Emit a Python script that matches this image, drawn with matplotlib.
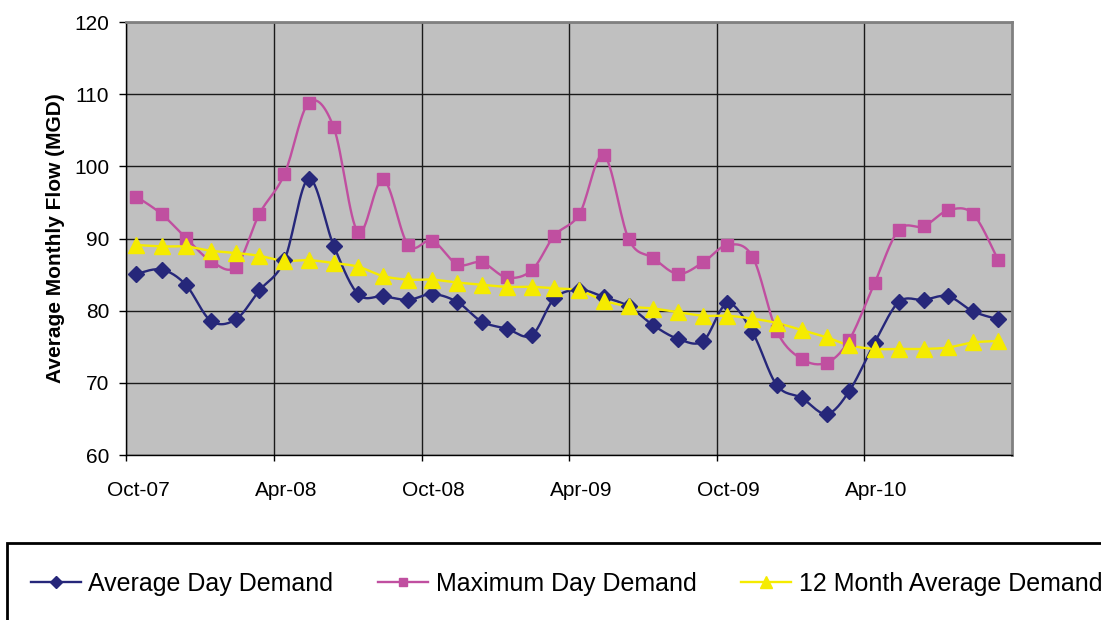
"""Monthly water demand: average day, maximum day and 12-month rolling average."""

import matplotlib

matplotlib.use("Agg")
import matplotlib.dates as mdates
import matplotlib.pyplot as plt
import matplotlib.transforms as mtransforms
import numpy as np
import pandas as pd
from matplotlib.lines import Line2D
from matplotlib.patches import Rectangle

plt.rcParams["font.family"] = ["Liberation Sans", "DejaVu Sans"]

# one reading per month, Oct-07 .. Sep-10 (plotted mid-month)
months = pd.date_range("2007-10-01", periods=36, freq="MS") + pd.Timedelta(days=13)

avg_day = [
    85.1, 85.7, 83.6, 78.6, 78.8, 82.8, 87.0, 98.3, 89.0, 82.3, 82.0, 81.5,
    82.3, 81.2, 78.5, 77.5, 76.6, 81.7, 82.9, 81.9, 80.6, 78.0, 76.1, 75.8,
    81.0, 77.0, 69.7, 67.9, 65.7, 68.9, 75.5, 81.2, 81.5, 82.0, 79.9, 78.8,
]
max_day = [
    95.8, 93.4, 90.1, 86.9, 86.1, 93.4, 98.9, 108.8, 105.4, 90.9, 98.2, 89.1,
    89.7, 86.4, 86.7, 84.6, 85.6, 90.4, 93.4, 101.6, 89.9, 87.3, 85.1, 86.7,
    89.1, 87.5, 77.2, 73.3, 72.8, 76.0, 83.8, 91.2, 91.7, 93.9, 93.4, 87.0,
]
avg_12mo = [
    89.1, 88.9, 88.9, 88.3, 88.0, 87.6, 86.9, 87.0, 86.6, 86.1, 84.8, 84.3,
    84.3, 83.9, 83.6, 83.3, 83.3, 83.1, 82.8, 81.4, 80.6, 80.3, 79.8, 79.3,
    79.3, 78.9, 78.3, 77.3, 76.3, 75.2, 74.7, 74.7, 74.7, 74.9, 75.6, 75.8,
]

tick_dates = pd.date_range("2007-10-01", "2010-04-01", freq="6MS")
tick_labels = [d.strftime("%b-%y") for d in tick_dates]

SERIES = [
    ("Average Day Demand", avg_day, "#26277A", "D", 8.5),
    ("Maximum Day Demand", max_day, "#C04FA0", "s", 8.5),
    ("12 Month Average Demand", avg_12mo, "#F5EB00", "^", 11),
]


def smooth(x, y, n=16):
    """Catmull-Rom curve through the points, like Excel's smoothed line."""
    pts = np.column_stack([x, y])
    p = np.vstack([pts[0], pts, pts[-1]])
    t = np.linspace(0, 1, n, endpoint=False)[:, None]
    segs = []
    for i in range(1, len(p) - 2):
        p0, p1, p2, p3 = p[i - 1], p[i], p[i + 1], p[i + 2]
        segs.append(0.5 * (2 * p1 + (-p0 + p2) * t
                           + (2 * p0 - 5 * p1 + 4 * p2 - p3) * t ** 2
                           + (-p0 + 3 * p1 - 3 * p2 + p3) * t ** 3))
    segs.append(pts[-1:])
    out = np.vstack(segs)
    return out[:, 0], out[:, 1]


fig = plt.figure(figsize=(11.01, 6.20), dpi=100)
ax = fig.add_axes([0.1144, 0.2661, 0.8047, 0.6984])
ax.set_facecolor("#C0C0C0")

xnum = mdates.date2num(months)
handles = []
for name, vals, color, marker, ms in SERIES:
    sx, sy = smooth(xnum, np.array(vals))
    ax.plot(sx, sy, color=color, lw=1.7, zorder=3)
    ax.plot(xnum, vals, linestyle="none", marker=marker, ms=ms,
            color=color, markeredgecolor=color, zorder=4)
    handles.append(Line2D([], [], color=color, lw=1.7, marker=marker,
                          ms=ms * 0.75, markeredgecolor=color, label=name))

ax.set_xlim(mdates.date2num(pd.Timestamp("2007-10-01")),
            mdates.date2num(pd.Timestamp("2010-10-01")))
ax.set_ylim(60, 120)
ax.set_yticks(range(60, 121, 10))
ax.set_xticks(mdates.date2num(tick_dates))
ax.set_xticklabels(tick_labels)
ax.tick_params(axis="y", labelsize=15, length=5, width=1, pad=7, color="black")
ax.tick_params(axis="x", labelsize=15, length=4, width=1, pad=15, color="black")
# month labels sit a little right of their tick, as in the original
shift = mtransforms.ScaledTranslation(0.12, 0, fig.dpi_scale_trans)
for lbl in ax.get_xticklabels():
    lbl.set_transform(lbl.get_transform() + shift)
ax.grid(True, color="#1a1a1a", lw=1.0, zorder=1)
ax.set_axisbelow(True)

for side in ("top", "right"):
    ax.spines[side].set_color("#808080")
    ax.spines[side].set_linewidth(2)
for side in ("left", "bottom"):
    ax.spines[side].set_color("black")
    ax.spines[side].set_linewidth(1)

ax.set_ylabel("Average Monthly Flow (MGD)", fontsize=15, fontweight="bold")
ax.yaxis.set_label_coords(-0.069, 0.5)

# legend frame runs off the bottom and right edge of the picture
fig.patches.append(Rectangle((0.0064, -0.2), 1.2, 0.3242, transform=fig.transFigure,
                             fill=False, edgecolor="black", lw=2))
fig.legend(handles=handles, loc="center left", bbox_to_anchor=(0.0165, 0.058),
           ncol=3, frameon=False, fontsize=18, handlelength=2.0,
           handletextpad=0.3, columnspacing=1.8, borderpad=0)

fig.savefig("out.png", dpi=100)
plt.close(fig)
